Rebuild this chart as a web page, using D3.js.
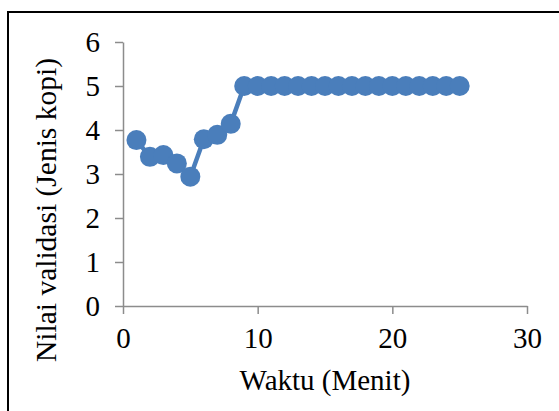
<!DOCTYPE html>
<html>
<head>
<meta charset="utf-8">
<script src="https://cdn.jsdelivr.net/npm/d3@7"></script>
<style>
  body { margin: 0; background: #fff; }
  .axis path, .axis line { stroke: #8c8c8c; stroke-width: 1.5; }
</style>
</head>
<body>
<div id="chart"></div>
<script>
// minutes and validation values
var minutes = [1, 2, 3, 4, 5, 6, 7, 8, 9, 10, 11, 12, 13, 14, 15, 16, 17, 18, 19, 20, 21, 22, 23, 24, 25];
var values = [3.77, 3.39, 3.43, 3.24, 2.94, 3.79, 3.89, 4.14, 5, 5, 5, 5, 5, 5, 5, 5, 5, 5, 5, 5, 5, 5, 5, 5, 5];
var xTicks = [0, 10, 20, 30];
var yTicks = [0, 1, 2, 3, 4, 5, 6];
var xTitle = "Waktu (Menit)";
var yTitle = "Nilai validasi (Jenis kopi)";

var fontFamily = "'Liberation Serif', 'Times New Roman', serif";
var fullWidth = 559, fullHeight = 411;
var margin = {top: 42, right: 32, bottom: 105, left: 123};
var width = fullWidth - margin.left - margin.right,
    height = fullHeight - margin.top - margin.bottom;
var color = "#4a7ebb";

var data = minutes.map(function(m, i) { return {x: m, y: values[i]}; });

var svg = d3.select("#chart").append("svg")
  .attr("width", fullWidth)
  .attr("height", fullHeight)
  .style("font-family", fontFamily);

// outer frame (runs off the right and bottom edges)
svg.append("rect")
  .attr("x", 8).attr("y", 12)
  .attr("width", 600).attr("height", 450)
  .attr("fill", "none")
  .attr("stroke", "#000")
  .attr("stroke-width", 2);

var g = svg.append("g")
  .attr("transform", "translate(" + margin.left + "," + margin.top + ")");

var xScale = d3.scaleLinear().domain([0, 30]).range([0, width]);
var yScale = d3.scaleLinear().domain([0, 6]).range([height, 0]);

// y axis
var yAxis = g.append("g")
  .attr("class", "axis")
  .call(d3.axisLeft(yScale).tickValues(yTicks).tickFormat(d3.format("d"))
    .tickSize(8).tickSizeOuter(0).tickPadding(15));
yAxis.selectAll("text")
  .style("font-family", fontFamily)
  .style("font-size", "29px")
  .attr("fill", "#000")
  .attr("dy", "0.34em");

// x axis
var xAxis = g.append("g")
  .attr("class", "axis")
  .attr("transform", "translate(0," + height + ")")
  .call(d3.axisBottom(xScale).tickValues(xTicks).tickFormat(d3.format("d"))
    .tickSize(8).tickSizeOuter(0).tickPadding(13));
xAxis.selectAll("text")
  .style("font-family", fontFamily)
  .style("font-size", "29px")
  .attr("fill", "#000")
  .attr("dy", "0.72em");

// x title
g.append("text")
  .attr("x", width / 2)
  .attr("y", height + 84)
  .style("text-anchor", "middle")
  .style("font-size", "29px")
  .text(xTitle);

// y title
svg.append("text")
  .attr("transform", "translate(56," + 210 + ") rotate(-90)")
  .style("text-anchor", "middle")
  .style("font-size", "29.5px")
  .text(yTitle);

// line
var line = d3.line()
  .x(function(d) { return xScale(d.x); })
  .y(function(d) { return yScale(d.y); });

g.append("path")
  .datum(data)
  .attr("fill", "none")
  .attr("stroke", color)
  .attr("stroke-width", 4.5)
  .attr("d", line);

// markers
g.selectAll(".dot")
  .data(data)
  .enter().append("circle")
  .attr("class", "dot")
  .attr("cx", function(d) { return xScale(d.x); })
  .attr("cy", function(d) { return yScale(d.y); })
  .attr("r", 10)
  .attr("fill", color);
</script>
</body>
</html>
